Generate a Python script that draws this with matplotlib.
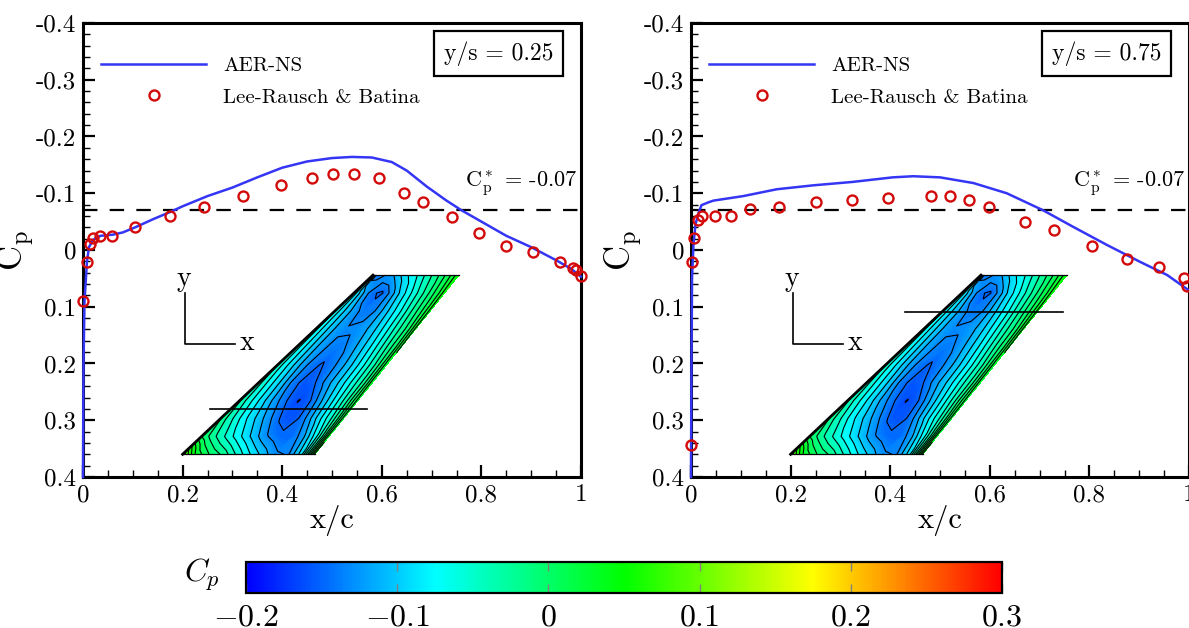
import numpy as np
import matplotlib
matplotlib.use('Agg')
import matplotlib.pyplot as plt
from matplotlib.cm import ScalarMappable
from matplotlib.colors import LinearSegmentedColormap, Normalize

plt.rcParams['font.family'] = ['cmr10', 'DejaVu Serif']
plt.rcParams['mathtext.fontset'] = 'cm'
plt.rcParams['axes.unicode_minus'] = False
plt.rcParams['axes.formatter.use_mathtext'] = True

# y/s = 0.25
x_ns_25 = [0, 0.001, 0.003, 0.008, 0.012, 0.02, 0.035, 0.06, 0.08, 0.105, 0.14, 0.175, 0.2, 0.25, 0.3, 0.35,
           0.4, 0.45, 0.5, 0.54, 0.58, 0.62, 0.65, 0.69, 0.73, 0.76, 0.8, 0.85, 0.9, 0.95, 0.98, 1.0]
cp_ns_25 = [0.4, 0.2, 0.09, 0.02, -0.005, -0.018, -0.025, -0.027, -0.031, -0.04, -0.054, -0.067, -0.077, -0.095,
            -0.11, -0.128, -0.145, -0.156, -0.162, -0.164, -0.163, -0.155, -0.14, -0.112, -0.087, -0.07, -0.05,
            -0.025, -0.005, 0.018, 0.033, 0.047]
x_lr_25 = [0.001, 0.008, 0.015, 0.021, 0.034, 0.058, 0.104, 0.174, 0.243, 0.321, 0.398, 0.46, 0.502, 0.544,
           0.594, 0.645, 0.683, 0.741, 0.795, 0.849, 0.903, 0.958, 0.984, 0.99, 1.0]
cp_lr_25 = [0.09, 0.021, -0.01, -0.022, -0.025, -0.025, -0.041, -0.06, -0.076, -0.095, -0.115, -0.127, -0.134,
            -0.134, -0.127, -0.1, -0.085, -0.058, -0.03, -0.007, 0.004, 0.021, 0.032, 0.035, 0.046]

# y/s = 0.75
x_ns_75 = [0, 0.001, 0.002, 0.005, 0.009, 0.015, 0.021, 0.035, 0.045, 0.105, 0.172, 0.246, 0.325, 0.405, 0.446,
           0.5, 0.567, 0.634, 0.707, 0.767, 0.835, 0.902, 0.956, 0.998]
cp_ns_75 = [0.4, 0.2, 0.05, -0.01, -0.045, -0.065, -0.079, -0.084, -0.087, -0.095, -0.107, -0.114, -0.12, -0.128,
            -0.13, -0.128, -0.118, -0.1, -0.07, -0.041, -0.009, 0.021, 0.044, 0.07]
x_lr_75 = [0.0, 0.002, 0.007, 0.014, 0.022, 0.048, 0.08, 0.118, 0.177, 0.25, 0.323, 0.396, 0.482, 0.52, 0.558,
           0.598, 0.671, 0.729, 0.805, 0.875, 0.94, 0.99, 0.996]
cp_lr_75 = [0.344, 0.021, -0.022, -0.053, -0.06, -0.06, -0.06, -0.072, -0.076, -0.084, -0.088, -0.092, -0.095,
            -0.095, -0.088, -0.076, -0.049, -0.035, -0.007, 0.016, 0.03, 0.049, 0.063]

y_ticks = [-0.4, -0.3, -0.2, -0.1, 0, 0.1, 0.2, 0.3, 0.4]
y_ticklabels = ['-0.4', '-0.3', '-0.2', '-0.1', '0', '0.1', '0.2', '0.3', '0.4']
x_ticks = [0, 0.2, 0.4, 0.6, 0.8, 1]
x_ticklabels = ['0', '0.2', '0.4', '0.6', '0.8', '1']
cb_ticks = [-0.2, -0.1, 0, 0.1, 0.2, 0.3]
cb_ticklabels = [r'$-0.2$', r'$-0.1$', r'$0$', r'$0.1$', r'$0.2$', r'$0.3$']
cp_star = -0.07

# Cp sobre el ala, leido a ojo: filas = envergadura, columnas = cuerda
wing_xi = [0, 0.05, 0.1, 0.2, 0.3, 0.4, 0.5, 0.6, 0.7, 0.8, 0.9, 0.95, 1]
wing_eta = [0, 0.1, 0.2, 0.3, 0.4, 0.5, 0.6, 0.7, 0.8, 0.9, 1]
wing_cp = [
    [0.10, 0.06, 0.03, 0.0, -0.02, -0.05, -0.08, -0.105, -0.13, -0.135, -0.09, -0.03, 0.04],
    [0.0, -0.015, -0.03, -0.055, -0.08, -0.105, -0.13, -0.145, -0.15, -0.12, -0.07, -0.03, 0.03],
    [-0.015, -0.035, -0.05, -0.08, -0.105, -0.13, -0.155, -0.16, -0.13, -0.09, -0.05, -0.02, 0.025],
    [-0.03, -0.05, -0.065, -0.095, -0.125, -0.15, -0.168, -0.15, -0.115, -0.08, -0.04, -0.01, 0.025],
    [-0.04, -0.06, -0.075, -0.105, -0.14, -0.158, -0.15, -0.125, -0.1, -0.07, -0.035, -0.01, 0.03],
    [-0.05, -0.07, -0.085, -0.115, -0.14, -0.152, -0.14, -0.12, -0.095, -0.065, -0.03, -0.005, 0.03],
    [-0.055, -0.075, -0.09, -0.118, -0.135, -0.14, -0.13, -0.11, -0.085, -0.055, -0.02, 0.0, 0.035],
    [-0.06, -0.08, -0.095, -0.12, -0.132, -0.13, -0.12, -0.1, -0.075, -0.045, -0.015, 0.005, 0.04],
    [-0.065, -0.085, -0.1, -0.125, -0.14, -0.138, -0.115, -0.09, -0.065, -0.035, -0.005, 0.015, 0.04],
    [-0.07, -0.095, -0.115, -0.145, -0.155, -0.13, -0.1, -0.075, -0.05, -0.025, 0.005, 0.02, 0.045],
    [-0.08, -0.15, -0.14, -0.125, -0.105, -0.085, -0.07, -0.05, -0.03, -0.01, 0.015, 0.03, 0.05],
]

W, H = 1189, 628
BLUE = '#3535f5'
RED = '#d40a0a'
cmap = LinearSegmentedColormap.from_list(
    'rainbow_mod', [(0, '#0000ff'), (0.25, '#00ffff'), (0.5, '#00ff00'), (0.75, '#ffff00'), (1, '#ff0000')])
norm = Normalize(-0.2, 0.3)


def px_axes(x0, y0, x1, y1):
    return [x0 / W, 1 - y1 / H, (x1 - x0) / W, (y1 - y0) / H]


def draw_wing(ax, section_x, section_y):
    xi, eta = np.meshgrid(wing_xi, wing_eta)
    le = 0.2 + (0.5823 - 0.2) * eta
    te = 0.4653 + (0.755 - 0.4653) * eta
    X = le + (te - le) * xi
    Y = 0.36 + (0.0443 - 0.36) * eta
    Z = np.array(wing_cp)
    ax.contourf(X, Y, Z, levels=np.arange(-0.2, 0.3001, 0.004), cmap=cmap, norm=norm, zorder=1.2)
    ax.contour(X, Y, Z, levels=np.arange(-0.2, 0.3001, 1 / 60), colors='k', linewidths=0.8,
               linestyles='solid', zorder=1.3)
    ax.plot([0.2, 0.4653], [0.36, 0.36], color='k', lw=0.9, zorder=1.4)
    ax.plot([0.5823, 0.755], [0.0443, 0.0443], color='k', lw=0.9, zorder=1.4)
    ax.plot([0.2, 0.5823], [0.36, 0.0443], color='k', lw=2.0, zorder=1.4)
    ax.plot(section_x, [section_y, section_y], color='k', lw=1.2, zorder=1.5)
    # ejes x-y del esquema
    ax.plot([0.205, 0.205, 0.305], [0.075, 0.165, 0.165], color='k', lw=1.2, zorder=1.5)
    ax.text(0.203, 0.05, 'y', fontsize=20, ha='center', va='center')
    ax.text(0.33, 0.164, 'x', fontsize=20, ha='center', va='center')


def draw_panel(ax, x_ns, cp_ns, x_lr, cp_lr, station, section_x, section_y):
    draw_wing(ax, section_x, section_y)
    ax.axhline(cp_star, color='k', lw=1.6, dashes=(6.5, 5.5), zorder=2)
    ax.plot(x_ns, cp_ns, color=BLUE, lw=1.8, label='AER-NS', zorder=3, clip_on=False)
    ax.plot(x_lr, cp_lr, 'o', mfc='none', mec=RED, mew=1.7, ms=7.2, label='Lee-Rausch & Batina',
            zorder=4, clip_on=False)

    ax.set_xlim(0, 1)
    ax.set_ylim(0.4, -0.4)
    ax.set_xticks(x_ticks, x_ticklabels)
    ax.set_yticks(y_ticks, y_ticklabels)
    ax.set_xticks(np.arange(0, 1.001, 0.05), minor=True)
    ax.set_yticks(np.arange(-0.4, 0.401, 0.02), minor=True)
    ax.tick_params(which='major', direction='in', length=8.5, width=1.6, labelsize=18, pad=5)
    ax.tick_params(which='minor', direction='in', length=4.8, width=1.0)
    for side in ax.spines.values():
        side.set_linewidth(2.2)
    ax.set_xlabel('x/c', fontsize=22, labelpad=-1)
    ax.set_ylabel(r'$\mathrm{C_p}$', fontsize=25, labelpad=0)

    ax.legend(loc='upper left', bbox_to_anchor=(0.037, 0.926), frameon=False, fontsize=15, handlelength=5.0,
              handletextpad=0.85, labelspacing=0.62, borderpad=0, borderaxespad=0)
    ax.text(0.835, 0.9325, station, transform=ax.transAxes, fontsize=17, ha='center', va='center',
            bbox=dict(boxstyle='square,pad=0.42', fc='white', ec='k', lw=1.6), zorder=5)
    ax.text(0.993, -0.118, r'$\mathrm{C_p^*}$ = -0.07', fontsize=16, ha='right', va='center')


fig = plt.figure(figsize=(W / 100, H / 100), dpi=100)
ax1 = fig.add_axes(px_axes(83, 23, 581, 477))
ax2 = fig.add_axes(px_axes(691, 23, 1189, 477))
draw_panel(ax1, x_ns_25, cp_ns_25, x_lr_25, cp_lr_25, 'y/s = 0.25', [0.255, 0.57], 0.28)
draw_panel(ax2, x_ns_75, cp_ns_75, x_lr_75, cp_lr_75, 'y/s = 0.75', [0.43, 0.747], 0.11)

cax = fig.add_axes(px_axes(246, 562, 1002, 593))
cb = fig.colorbar(ScalarMappable(norm=norm, cmap=cmap), cax=cax, orientation='horizontal')
cb.set_ticks(cb_ticks, labels=cb_ticklabels)
cax.tick_params(axis='x', direction='in', top=True, bottom=True, length=6.5, width=1.0, color='#808080',
                labelsize=23, pad=8)
cb.outline.set_linewidth(1.6)
fig.text(202 / W, 1 - 575 / H, r'$C_p$', fontsize=23, ha='center', va='center')

fig.savefig('out.png', dpi=100)
